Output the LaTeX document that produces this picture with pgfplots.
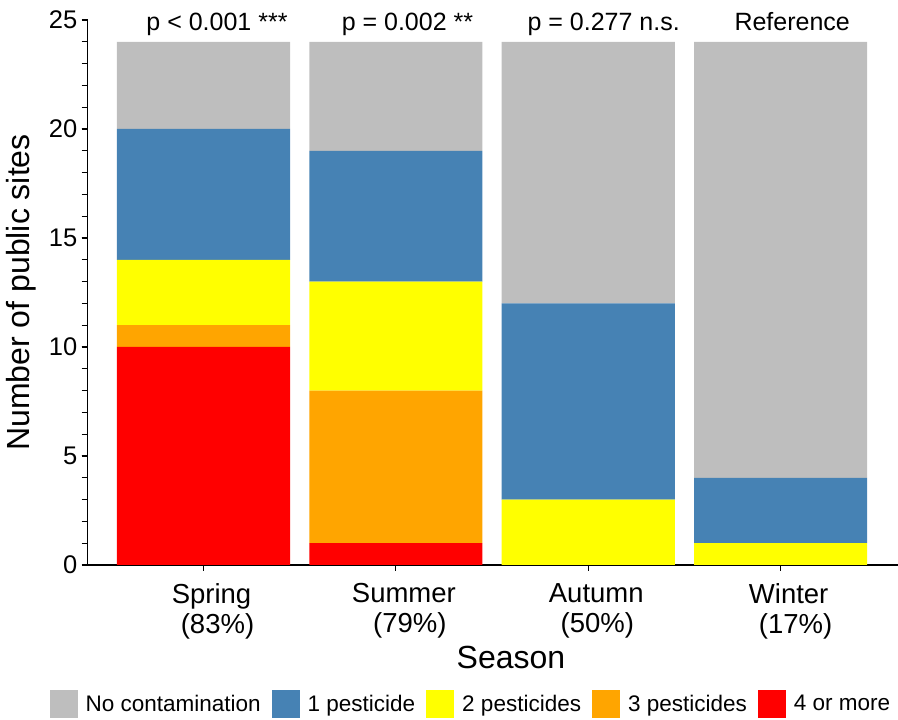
\documentclass[border=0pt]{standalone}
\usepackage{fontspec}
\setmainfont{Liberation Sans}
\usepackage{pgfplots}
\pgfplotsset{compat=1.18}

\definecolor{cnone}{HTML}{BEBEBE}
\definecolor{cone}{HTML}{4682B4}
\definecolor{ctwo}{HTML}{FFFF00}
\definecolor{cthree}{HTML}{FFA500}
\definecolor{cfour}{HTML}{FF0000}

\begin{document}
\begin{tikzpicture}[x=1bp,y=1bp]
\path[use as bounding box] (0,0) rectangle (898,720);
\begin{axis}[
  at={(87.5bp,155bp)}, anchor=south west,
  scale only axis, width=810.5bp, height=545bp,
  clip=false,
  ybar stacked, bar width=0.9,
  xmin=-0.603, xmax=3.61, ymin=0, ymax=25,
  axis x line*=bottom, axis y line*=left,
  axis line style={-, line width=1.5bp, black},
  tick style={line width=1.2bp, black},
  tick align=outside,
  major tick length=6bp, minor tick length=6bp,
  /pgf/number format/assume math mode=true,
  xtick={0,1,2,3},
  xticklabels={{Spring\\\hspace*{12bp}(83\%)},{Summer\\\hspace*{12bp}(79\%)},{Autumn\\\hspace*{2bp}(50\%)},{Winter\\\hspace*{14bp}(17\%)}},
  xticklabel style={align=center, anchor=north, inner sep=0pt, yshift=-12bp, xshift=8bp,
    font=\fontsize{27.5bp}{30bp}\selectfont},
  ytick={0,5,...,25}, minor ytick={1,...,24},
  yticklabel style={font=\fontsize{25.5bp}{28bp}\selectfont, inner sep=0pt, xshift=-4bp},
  xlabel={Season}, ylabel={Number of public sites},
  every axis x label/.style={at={(axis description cs:0.5225,-0.1908)}, anchor=base,
    font=\fontsize{32bp}{36bp}\selectfont},
  every axis y label/.style={at={(axis description cs:-0.071,0.5)}, anchor=base, rotate=90,
    font=\fontsize{32bp}{36bp}\selectfont},
  reverse legend,
  legend columns=5,
  legend image code/.code={\path[#1] (0bp,-14bp) rectangle (28bp,14bp);},
  legend style={at={(axis description cs:0.473,-0.255)}, anchor=center, draw=none,
    font=\fontsize{22.5bp}{25bp}\selectfont, inner sep=0pt,
    /tikz/every odd column/.append style={column sep=6bp},
    /tikz/every even column/.append style={column sep=9bp}},
]
\addplot[fill=cfour, draw=none] coordinates {(0,10) (1,1) (2,0) (3,0)};
\addlegendentry{4 or more}
\addplot[fill=cthree, draw=none] coordinates {(0,1) (1,7) (2,0) (3,0)};
\addlegendentry{3 pesticides}
\addplot[fill=ctwo, draw=none] coordinates {(0,3) (1,5) (2,3) (3,1)};
\addlegendentry{2 pesticides}
\addplot[fill=cone, draw=none] coordinates {(0,6) (1,6) (2,9) (3,3)};
\addlegendentry{1 pesticide}
\addplot[fill=cnone, draw=none] coordinates {(0,4) (1,5) (2,12) (3,20)};
\addlegendentry{No contamination}
\node[anchor=base, font=\fontsize{25bp}{28bp}\selectfont] at (axis cs:0.07,24.5) {p < 0.001 ***};
\node[anchor=base, font=\fontsize{25bp}{28bp}\selectfont] at (axis cs:1.06,24.5) {p = 0.002 **};
\node[anchor=base, font=\fontsize{25bp}{28bp}\selectfont] at (axis cs:2.08,24.5) {p = 0.277 n.s.};
\node[anchor=base, font=\fontsize{25bp}{28bp}\selectfont] at (axis cs:3.06,24.5) {Reference};
\end{axis}
\end{tikzpicture}
\end{document}
